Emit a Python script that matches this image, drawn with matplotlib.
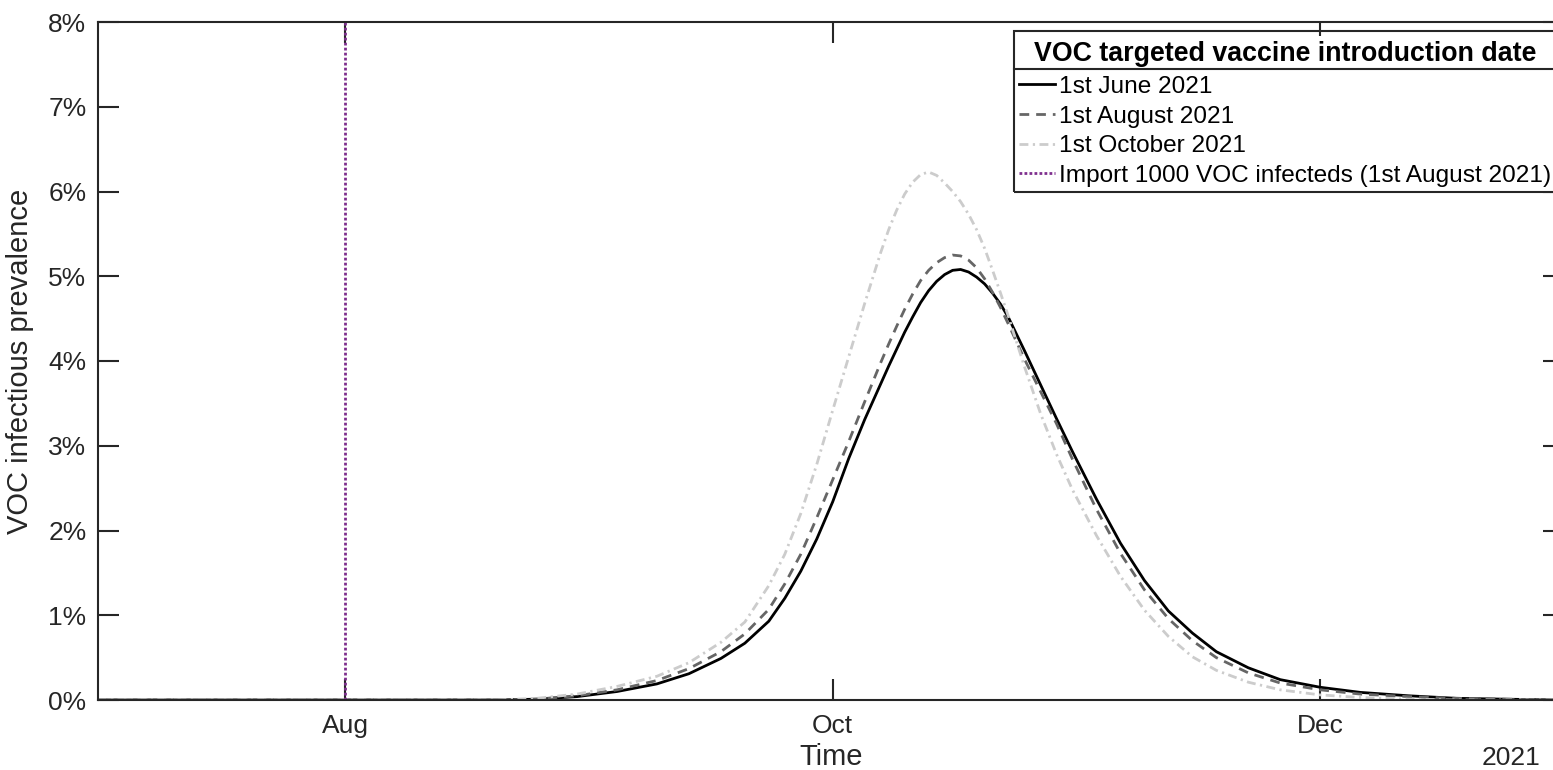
import numpy as np
import matplotlib
matplotlib.use("Agg")
import matplotlib.pyplot as plt
import matplotlib.dates as mdates
from matplotlib.lines import Line2D
from matplotlib.patches import Rectangle

plt.rcParams['font.family'] = ['Liberation Sans', 'DejaVu Sans']

# days after 1 July 2021
days = [0, 30, 50, 55, 60, 65, 70, 74, 78, 81,
        84, 86, 88, 90, 92, 94, 96, 98, 99, 100,
        101, 102, 103, 104, 105, 106, 107, 108, 109, 110,
        111, 112, 113, 114, 116, 118, 120, 122, 125, 128,
        131, 134, 137, 140, 144, 148, 153, 158, 164, 170,
        176, 183]
# VOC infectious prevalence (%), one series per vaccine introduction date
june = [0, 0, 0, 0.01, 0.04, 0.10, 0.19, 0.31, 0.49, 0.67,
        0.93, 1.20, 1.52, 1.90, 2.34, 2.85, 3.31, 3.73, 3.94, 4.14,
        4.34, 4.52, 4.69, 4.83, 4.94, 5.02, 5.07, 5.08, 5.05, 4.99,
        4.91, 4.80, 4.67, 4.51, 4.12, 3.72, 3.32, 2.93, 2.37, 1.85,
        1.41, 1.05, 0.79, 0.57, 0.38, 0.24, 0.15, 0.09, 0.05, 0.02,
        0.01, 0]
august = [0, 0, 0, 0.01, 0.05, 0.12, 0.23, 0.37, 0.57, 0.78,
          1.07, 1.37, 1.72, 2.15, 2.60, 3.05, 3.52, 3.98, 4.20, 4.41,
          4.61, 4.79, 4.95, 5.07, 5.16, 5.22, 5.25, 5.24, 5.19, 5.10,
          4.97, 4.81, 4.63, 4.43, 4.02, 3.64, 3.26, 2.84, 2.25, 1.73,
          1.30, 0.96, 0.70, 0.50, 0.32, 0.20, 0.12, 0.07, 0.04, 0.02,
          0.01, 0]
october = [0, 0, 0, 0.02, 0.07, 0.16, 0.28, 0.44, 0.68, 0.92,
           1.35, 1.72, 2.20, 2.78, 3.42, 4.05, 4.68, 5.28, 5.55, 5.78,
           5.97, 6.11, 6.20, 6.23, 6.19, 6.10, 6.00, 5.88, 5.73, 5.55,
           5.33, 5.07, 4.80, 4.52, 3.93, 3.38, 2.90, 2.48, 1.94, 1.46,
           1.06, 0.75, 0.51, 0.35, 0.21, 0.12, 0.06, 0.03, 0.01, 0,
           0, 0]

labels = ["1st June 2021", "1st August 2021", "1st October 2021",
          "Import 1000 VOC infecteds (1st August 2021)"]
legend_title = "VOC targeted vaccine introduction date"
import_date = "2021-08-01"
xticks = ["2021-08-01", "2021-10-01", "2021-12-01"]
xticklabels = ["Aug", "Oct", "Dec"]
yticks = [0, 1, 2, 3, 4, 5, 6, 7, 8]

start = mdates.date2num(np.datetime64("2021-07-01"))
x = start + np.array(days, dtype=float)

fig = plt.figure(figsize=(15.53, 7.70), dpi=100)
ax = fig.add_axes([97.5 / 1553, 70 / 770, (1564 - 97.5) / 1553, 678 / 770])

axc = '#262626'
lw = 2.0
ax.plot(x, june, color='black', lw=lw, label=labels[0])
ax.plot(x, august, color='#666666', lw=lw, ls=(0, (3.5, 2.5)), label=labels[1])
ax.plot(x, october, color='#cccccc', lw=lw, ls=(0, (3.2, 1.6, 0.8, 1.6)), label=labels[2])
imp = mdates.date2num(np.datetime64(import_date))
ax.plot([imp, imp], [0, 8], color='#7e2f8e', lw=lw, ls=(0, (1, 0.8)), label=labels[3])

ax.set_xlim(start, start + 183.5)
ax.set_ylim(0, 8)
ax.set_xticks([mdates.date2num(np.datetime64(d)) for d in xticks])
ax.set_xticklabels(xticklabels)
ax.set_yticks(yticks)
ax.set_yticklabels([f"{v}%" for v in yticks])

for s in ax.spines.values():
    s.set_color(axc)
    s.set_linewidth(1.5)
ax.tick_params(direction='in', length=15, width=1.5, color=axc, labelcolor=axc,
               labelsize=19, top=True, right=True, pad=8)
ax.tick_params(axis='x', pad=10)

ax.set_xlabel("Time", fontsize=21, color=axc, labelpad=4)
ax.set_ylabel("VOC infectious prevalence", fontsize=21, color=axc, labelpad=10)
fig.text(1540 / 1553, 12 / 770, "2021", fontsize=19, color=axc, ha='right', va='center')

leg = ax.legend(loc='upper right', bbox_to_anchor=(1557 / 1553, (770 - 36) / 770),
                bbox_transform=fig.transFigure, borderaxespad=0, fancybox=False,
                framealpha=1, facecolor='white', edgecolor='none', fontsize=17.6,
                handlelength=1.45, handletextpad=0.2, borderpad=0.22, labelspacing=0.31,
                title=legend_title, title_fontproperties={'weight': 'bold', 'size': 19.3})
leg._legend_box.sep = 6

# legend frame (a bit taller on top) and separator under the title
fig.canvas.draw()
bb = leg.get_window_extent()
top = 770 - 31
fig.add_artist(Rectangle((bb.x0, bb.y0), bb.x1 - bb.x0, top - bb.y0, transform=None,
                         fill=False, edgecolor=axc, lw=1.5))
fig.add_artist(Line2D([bb.x0, bb.x1], [770 - 69, 770 - 69], transform=None,
                      color=axc, lw=1.5))

fig.savefig("out.png", dpi=100)
